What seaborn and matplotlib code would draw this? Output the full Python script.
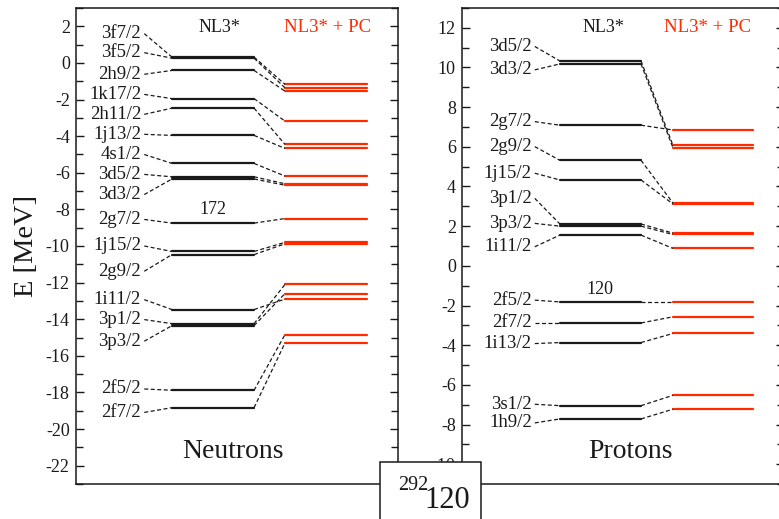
import numpy as np
import pandas as pd
import matplotlib
matplotlib.use("Agg")
import matplotlib.pyplot as plt
import seaborn as sns
from matplotlib.patches import Rectangle
from matplotlib.ticker import MultipleLocator

sns.set_style("ticks")
plt.rcParams['font.family'] = ['Liberation Serif', 'DejaVu Serif']
plt.rcParams['axes.unicode_minus'] = False

RED = '#ff2a00'
INK = '#1a1a1a'

# ---------------- data ----------------
models = ["NL3*", "NL3* + PC"]

neutron_states = ["3f7/2", "3f5/2", "2h9/2", "1k17/2", "2h11/2", "1j13/2", "4s1/2",
                  "3d5/2", "3d3/2", "2g7/2", "1j15/2", "2g9/2", "1i11/2", "3p1/2",
                  "3p3/2", "2f5/2", "2f7/2"]
neutron_nl3 = [0.32, 0.26, -0.41, -1.95, -2.47, -3.96, -5.49, -6.22, -6.34, -8.75,
               -10.30, -10.47, -13.47, -14.24, -14.35, -17.88, -18.83]
neutron_pc = [-1.17, -1.36, -1.54, -3.18, -4.45, -4.67, -6.18, -6.60, -6.68, -8.50,
              -9.80, -9.88, -12.90, -12.10, -12.60, -14.84, -15.30]
neutron_label_pos = [1.6, 0.56, -0.62, -1.72, -2.81, -3.9, -5.0, -6.09, -7.19, -8.55,
                     -10.0, -11.38, -12.93, -14.02, -15.2, -17.81, -19.09]

proton_states = ["3d5/2", "3d3/2", "2g7/2", "2g9/2", "1j15/2", "3p1/2", "3p3/2",
                 "1i11/2", "2f5/2", "2f7/2", "1i13/2", "3s1/2", "1h9/2"]
proton_nl3 = [10.33, 10.18, 7.09, 5.32, 4.33, 2.11, 2.00, 1.55, -1.82, -2.88, -3.87,
              -7.05, -7.72]
proton_pc = [6.08, 5.96, 6.85, 3.17, 3.12, 1.65, 1.58, 0.88, -1.82, -2.57, -3.41,
             -6.53, -7.23]
proton_label_pos = [11.06, 9.88, 7.27, 6.01, 4.67, 3.4, 2.14, 0.96, -1.73, -2.88,
                    -3.92, -6.98, -7.92]

neutron_ylim = (-23, 3)
proton_ylim = (-11, 13)
neutron_ticks = list(range(-22, 3, 2))
proton_ticks = list(range(-10, 13, 2))

# ---------------- figure ----------------
fig = plt.figure(figsize=(7.79, 5.19), dpi=100)
W, H = 779, 519
ax_n = fig.add_axes([76 / W, 35 / H, 322 / W, 476 / H])
ax_p = fig.add_axes([462 / W, 35 / H, 322 / W, 476 / H])


def draw_panel(ax, states, nl3, pc, label_pos, lay, ylim, ticks, magic, magic_y, title):
    rows = []
    for i, (s, e0, e1) in enumerate(zip(states, nl3, pc)):
        for x in (lay['b0'], lay['b1']):
            rows.append(dict(x=x, E=e0, uid=f"a{i}", model=models[0]))
        for x in (lay['r0'], lay['r1']):
            rows.append(dict(x=x, E=e1, uid=f"b{i}", model=models[1]))
    df = pd.DataFrame(rows)
    sns.lineplot(data=df, x='x', y='E', hue='model', units='uid', estimator=None,
                 palette={models[0]: INK, models[1]: RED}, legend=False,
                 linewidth=1.6, ax=ax)
    dash = dict(color=INK, lw=0.9, ls=(0, (3.2, 2.0)))
    for s, e0, e1, ly in zip(states, nl3, pc, label_pos):
        ax.plot([lay['d0'], lay['b0']], [ly, e0], **dash)
        ax.plot([lay['b1'], lay['r0']], [e0, e1], **dash)
        ax.text(lay['lx'], ly, s, ha='right', va='center', fontsize=13.5, color=INK)
    ax.set_xlim(0, 1)
    ax.set_ylim(*ylim)
    ax.set_xticks([])
    ax.set_yticks(ticks)
    ax.set_yticklabels([str(t) for t in ticks], fontfamily='Liberation Serif')
    ax.yaxis.set_minor_locator(MultipleLocator(1))
    ax.tick_params(axis='y', which='both', direction='in', left=True, right=True,
                   labelright=False, colors=INK, labelsize=13, pad=4.5, width=1.0)
    ax.tick_params(axis='y', which='major', length=6)
    ax.tick_params(axis='y', which='minor', length=5)
    for sp in ax.spines.values():
        sp.set_visible(True)
        sp.set_color(INK)
        sp.set_linewidth(1.1)
    ax.set_xlabel('')
    ax.set_ylabel('')
    ax.text(lay['t1'], 0.958, models[0], transform=ax.transAxes, ha='center',
            va='center', fontsize=13, color=INK)
    ax.text(lay['t2'], 0.958, models[1], transform=ax.transAxes, ha='center',
            va='center', fontsize=13.5, color=RED)
    ax.text(lay['mx'], magic_y, magic, ha='center', va='center', fontsize=13, color=INK)
    ax.text(lay['tx'], 0.068, title, transform=ax.transAxes, ha='center',
            va='center', fontsize=20, color=INK)


lay_n = dict(lx=0.202, d0=0.212, b0=0.298, b1=0.553, r0=0.649, r1=0.904,
             t1=0.444, t2=0.780, mx=0.425, tx=0.488)
lay_p = dict(lx=0.217, d0=0.226, b0=0.304, b1=0.556, r0=0.655, r1=0.904,
             t1=0.438, t2=0.764, mx=0.429, tx=0.522)

draw_panel(ax_n, neutron_states, neutron_nl3, neutron_pc, neutron_label_pos, lay_n,
           neutron_ylim, neutron_ticks, "172", -8.0, "Neutrons")
draw_panel(ax_p, proton_states, proton_nl3, proton_pc, proton_label_pos, lay_p,
           proton_ylim, proton_ticks, "120", -1.2, "Protons")

ax_n.set_ylabel("E [MeV]", fontsize=20.5, color=INK, labelpad=5)

# nucleus box
box = Rectangle((380 / W, -0.05), 101 / W, (519 - 462) / H + 0.05,
                transform=fig.transFigure, facecolor='white', edgecolor=INK,
                linewidth=1.1, zorder=10)
fig.add_artist(box)
fig.text(398 / W, (519 - 490) / H, "292", fontsize=14.5, color=INK,
         va='baseline', ha='left', zorder=11)
fig.text(424 / W, (519 - 508) / H, "120", fontsize=22, color=INK,
         va='baseline', ha='left', zorder=11)

fig.savefig("out.png", dpi=100)
